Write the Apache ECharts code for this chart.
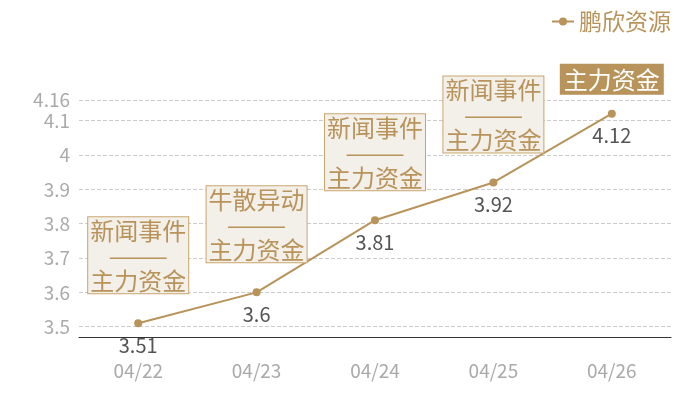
<!DOCTYPE html>
<html>
<head>
<meta charset="utf-8">
<script src="https://cdn.jsdelivr.net/npm/echarts@6/dist/echarts.min.js"></script>
<style>
html,body{margin:0;padding:0;background:#fff;}
#main{width:700px;height:400px;}
</style>
</head>
<body>
<div id="main"></div>
<script>
var days = ['04/22', '04/23', '04/24', '04/25', '04/26'];
var prices = [3.51, 3.6, 3.81, 3.92, 4.12];
var notes = ['新闻事件\n———\n主力资金', '牛散异动\n———\n主力资金', '新闻事件\n———\n主力资金', '新闻事件\n———\n主力资金', '主力资金'];

var gold = '#b8935a';
var font = '"Noto Sans CJK SC", sans-serif';

window.onload = function () {
    var myChart = echarts.init(document.getElementById('main'));
    var marks = [];
    for (var i = 0; i < days.length; i++) {
        var last = i === days.length - 1;
        marks.push({
            coord: [days[i], prices[i]],
            label: last ? {
                backgroundColor: gold,
                borderColor: gold,
                color: '#fff',
                distance: 20,
                padding: [3, 3, 1, 3]
            } : {}
        });
    }
    var option = {
        textStyle: {fontFamily: font},
        legend: {
            right: 24,
            top: 5,
            itemWidth: 22,
            itemHeight: 10,
            itemGap: 8,
            textStyle: {color: gold, fontSize: 23, fontFamily: font},
            data: ['鹏欣资源']
        },
        grid: {
            left: 79,
            right: 29,
            top: 100,
            bottom: 63
        },
        xAxis: {
            type: 'category',
            data: days,
            axisTick: {show: false},
            axisLine: {lineStyle: {color: '#333'}},
            axisLabel: {color: '#aaa', fontSize: 19, margin: 24, fontFamily: font}
        },
        yAxis: {
            type: 'value',
            min: 3.47,
            max: 4.16,
            splitNumber: 6,
            axisLine: {show: false},
            axisTick: {show: false},
            axisLabel: {color: '#aaa', fontSize: 19, margin: 9, showMinLabel: false, fontFamily: font},
            splitLine: {lineStyle: {color: '#ccc', type: 'dashed'}}
        },
        series: [{
            name: '鹏欣资源',
            type: 'line',
            data: prices,
            symbol: 'circle',
            symbolSize: 8,
            itemStyle: {color: gold},
            lineStyle: {color: gold, width: 2},
            label: {
                show: true,
                position: 'bottom',
                distance: 8,
                color: '#555',
                fontSize: 20,
                fontFamily: font
            },
            markPoint: {
                symbol: 'circle',
                symbolSize: 0,
                label: {
                    show: true,
                    position: 'top',
                    distance: 30,
                    formatter: function (p) { return notes[p.dataIndex]; },
                    backgroundColor: '#f3efe9',
                    borderColor: '#c9a66f',
                    borderWidth: 1,
                    padding: [1, 2, 0, 2],
                    color: gold,
                    fontSize: 24,
                    lineHeight: 25,
                    align: 'center',
                    fontFamily: font
                },
                data: marks
            }
        }]
    };
    myChart.setOption(option);
};
</script>
</body>
</html>
